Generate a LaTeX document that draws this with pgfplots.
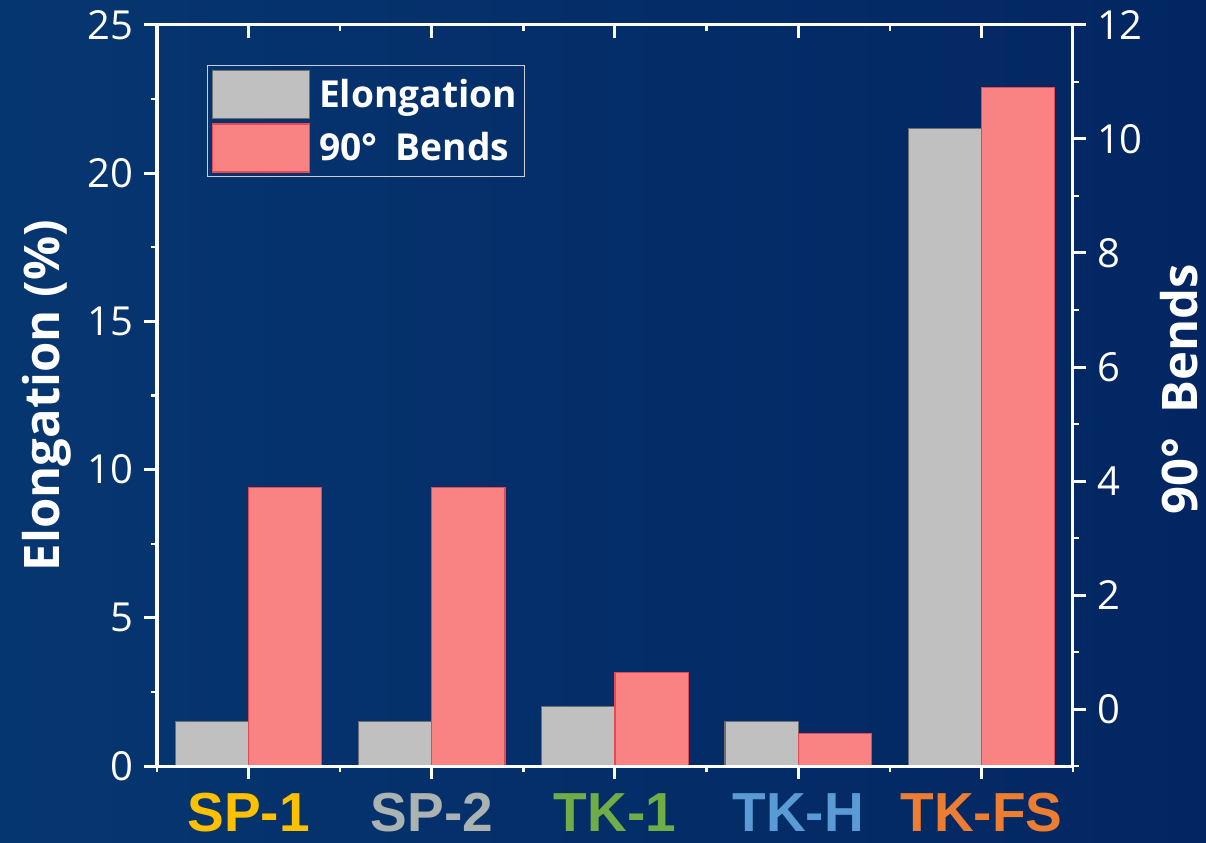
\documentclass[border=0pt]{standalone}
\usepackage{fontspec}
\setmainfont{Open Sans}
\newfontfamily\catfont{Liberation Sans}
\usepackage{pgfplots}
\pgfplotsset{compat=1.18}
\definecolor{bgA}{RGB}{6,54,112}
\definecolor{bgB}{RGB}{3,38,98}
\definecolor{barG}{RGB}{192,192,192}
\definecolor{barGe}{RGB}{110,110,110}
\definecolor{barR}{RGB}{249,130,130}
\definecolor{barRe}{RGB}{232,72,82}
\definecolor{cSPa}{RGB}{255,192,0}
\definecolor{cSPb}{RGB}{170,178,178}
\definecolor{cTKa}{RGB}{112,173,71}
\definecolor{cTKh}{RGB}{91,155,213}
\definecolor{cTKf}{RGB}{237,125,49}
\definecolor{legdraw}{RGB}{200,205,220}
\begin{document}
\begin{tikzpicture}
\shade[left color=bgA,right color=bgB] (0,0) rectangle (603pt,421pt);
\useasboundingbox (0,0) rectangle (603pt,421pt);
\pgfplotsset{common/.style={
  at={(78.5pt,38pt)}, anchor=south west, scale only axis,
  width=458pt, height=370.5pt,
  xmin=-0.5, xmax=4.5,
  axis line style={white, line width=1.5pt, line cap=rect},
  major tick length=6.5pt, minor tick length=3.2pt,
  major tick style={white, line width=1.5pt},
  minor tick style={white, line width=1.2pt},
  tick label style={white, font=\fontsize{20}{24}\selectfont},
  /pgf/number format/assume math mode=true,
}}
\begin{axis}[common,
  ymin=0, ymax=25, ytick={0,5,...,25}, minor ytick={2.5,7.5,...,22.5},
  xtick={0,...,4}, minor xtick={-0.5,0.5,...,4.5},
  xtick pos=left, ytick pos=left, tick align=outside,
  xticklabels={\textcolor{cSPa}{SP-1},\textcolor{cSPb}{SP-2},\textcolor{cTKa}{TK-1},\textcolor{cTKh}{TK-H},\textcolor{cTKf}{TK-FS}},
  x tick label style={font=\catfont\bfseries\fontsize{27.5}{32}\selectfont, anchor=base, inner sep=0pt, yshift=-26.3pt},
  y tick label style={anchor=east, xshift=-2pt},
  ylabel={Elongation (\%)},
  every axis y label/.style={at={(axis description cs:-0.1059,0.5)}, rotate=90, anchor=base, white, font=\bfseries\fontsize{24.5}{30}\selectfont},
  legend style={at={(0.0546,0.946)}, anchor=north west, draw=legdraw, line width=0.6pt,
    fill=none, text=white, font=\bfseries\fontsize{18.6}{23}\selectfont,
    inner xsep=2pt, inner ysep=2pt, row sep=2pt,
    nodes={inner sep=1.5pt, anchor=west},
    /tikz/every even column/.append style={column sep=4pt}},
  legend cell align=left,
]
\addplot[ybar, bar width=0.4, bar shift=-0.2, fill=barG, draw=barGe, line width=0.6pt,
  legend image code/.code={\draw[fill=barG, draw=barGe, line width=0.8pt] (0pt,-12pt) rectangle (48.5pt,12pt); \path (51.5pt,0pt);}]
  coordinates {(0,1.5) (1,1.5) (2,2.0) (3,1.5) (4,21.5)};
\addlegendentry{Elongation}
\addplot[ybar, bar width=0.4, bar shift=0.2, fill=barR, draw=barRe, line width=0.6pt,
  y filter/.expression={(y+1)*25/13},
  legend image code/.code={\draw[fill=barR, draw=barRe, line width=0.8pt] (0pt,-12pt) rectangle (48.5pt,12pt); \path (51.5pt,0pt);}]
  coordinates {(0,3.88) (1,3.88) (2,0.64) (3,-0.43) (4,10.9)};
\addlegendentry{90°\hspace{0.23em} Bends}
\end{axis}
\begin{axis}[common,
  ymin=-1, ymax=12, ytick={0,2,...,12}, minor ytick={-1,1,...,11},
  xtick=\empty, ytick pos=right, tick align=outside,
  y tick label style={anchor=west, xshift=2pt},
  ylabel={90°\hspace{0.23em} Bends},
  every axis y label/.style={at={(axis description cs:1.1354,0.509)}, rotate=90, anchor=base, white, font=\bfseries\fontsize{24.5}{30}\selectfont},
]
\addplot[draw=none] coordinates {(0,0)};
\end{axis}
\begin{axis}[common,
  ymin=0, ymax=1, ytick=\empty,
  xtick={0,...,4}, minor xtick={-0.5,0.5,...,4.5},
  xtick pos=right, tick align=inside, xticklabels={{},{},{},{},{}},
]
\addplot[draw=none] coordinates {(0,0.5)};
\end{axis}
\end{tikzpicture}
\end{document}
